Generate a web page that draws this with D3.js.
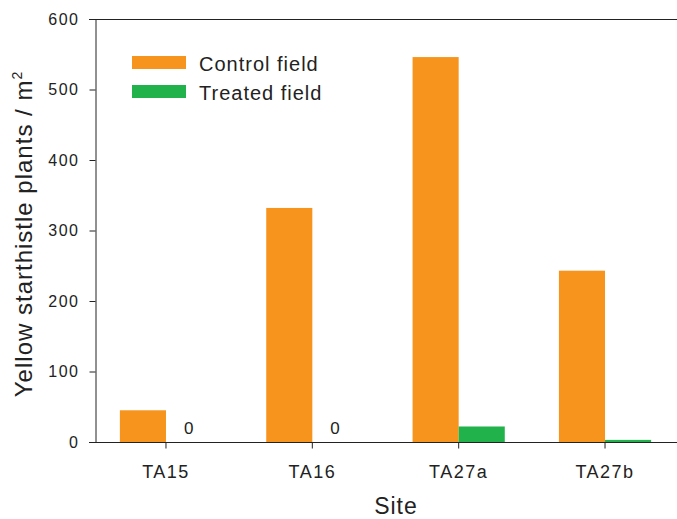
<!DOCTYPE html>
<html>
<head>
<meta charset="utf-8">
<script src="https://cdn.jsdelivr.net/npm/d3@7"></script>
<style>
  body { margin: 0; background: #fff; }
  svg { display: block; font-family: Arial, "Liberation Sans", sans-serif; }
  .axis path, .axis line { stroke: #222; }
  .axis text { fill: #222; }
</style>
</head>
<body>
<div id="chart"></div>
<script>
var sites = ['TA15', 'TA16', 'TA27a', 'TA27b']
var controlField = [45, 332, 546, 243]
var treatedField = [0, 0, 22, 3]
var seriesNames = ['Control field', 'Treated field']
var yTicks = [0, 100, 200, 300, 400, 500, 600]

function barChart(selector) {
    /* grouped bars, control vs treated */
    var width = 677, height = 519
    var margin = { top: 19, right: 1, bottom: 77, left: 95 }

    var svg = d3.select(selector).append('svg')
        .attr('width', width)
        .attr('height', height)

    var colors = { 'Control field': '#f7941e', 'Treated field': '#22b24c' }

    var data = sites.map(function (s, i) {
        return { site: s, values: [
            { key: seriesNames[0], value: controlField[i] },
            { key: seriesNames[1], value: treatedField[i] }
        ] }
    })

    var x = d3.scaleBand()
        .domain(sites)
        .range([margin.left, width - margin.right])
        .paddingInner(0.37)
        .paddingOuter(0.17)
    var x1 = d3.scaleBand()
        .domain(seriesNames)
        .range([0, x.bandwidth()])
    var y = d3.scaleLinear()
        .domain([0, 600])
        .range([height - margin.bottom, margin.top])

    // top frame line
    svg.append('line')
        .attr('x1', margin.left - 6).attr('x2', width)
        .attr('y1', y(600) + 0.5).attr('y2', y(600) + 0.5)
        .attr('stroke', '#222')

    var group = svg.selectAll('.site')
        .data(data)
        .enter()
        .append('g')
        .attr('class', 'site')
        .attr('transform', function (d) { return 'translate(' + x(d.site) + ',0)' })

    group.selectAll('rect')
        .data(function (d) { return d.values })
        .enter()
        .append('rect')
        .attr('x', function (d) { return x1(d.key) })
        .attr('width', x1.bandwidth())
        .attr('y', function (d) { return y(d.value) })
        .attr('height', function (d) { return y(0) - y(d.value) })
        .attr('fill', function (d) { return colors[d.key] })

    // zero labels where a bar has no height
    group.selectAll('.zero')
        .data(function (d) { return d.values.filter(function (v) { return v.value === 0 }) })
        .enter()
        .append('text')
        .attr('class', 'zero')
        .attr('x', function (d) { return x1(d.key) + 18 })
        .attr('y', y(0) - 8)
        .attr('font-size', '17px')
        .attr('letter-spacing', '1px')
        .attr('fill', '#222')
        .text('0')

    var xAxis = svg.append('g')
        .attr('class', 'axis')
        .attr('transform', 'translate(0,' + (y(0) + 0.5) + ')')
        .call(d3.axisBottom(x).tickSize(6).tickSizeOuter(0).tickPadding(17))
    xAxis.select('.domain').attr('d', 'M' + (margin.left - 6) + ',0H' + width)
    xAxis.selectAll('text')
        .attr('font-size', '18px')
        .attr('letter-spacing', '1.5px')

    var yAxis = svg.append('g')
        .attr('class', 'axis')
        .attr('transform', 'translate(' + (margin.left + 0.5) + ',0)')
        .call(d3.axisLeft(y).tickValues(yTicks).tickSize(6).tickSizeOuter(0).tickPadding(10))
    yAxis.selectAll('text')
        .attr('font-size', '16px')
        .attr('letter-spacing', '1.5px')

    // legend
    var legend = svg.append('g')
        .selectAll('g')
        .data(seriesNames)
        .enter()
        .append('g')
        .attr('transform', function (d, i) { return 'translate(132,' + (56 + i * 29) + ')' })
    legend.append('rect')
        .attr('width', 54)
        .attr('height', 13)
        .attr('fill', function (d) { return colors[d] })
    legend.append('text')
        .attr('x', 67)
        .attr('y', 15)
        .attr('font-size', '20px')
        .attr('letter-spacing', '1px')
        .attr('fill', '#222')
        .text(function (d) { return d })

    // axis titles
    var yTitle = svg.append('text')
        .attr('transform', 'translate(32,234) rotate(-90)')
        .attr('text-anchor', 'middle')
        .attr('font-size', '24px')
        .attr('letter-spacing', '1px')
        .attr('fill', '#222')
    yTitle.append('tspan').text('Yellow starthistle plants / m')
    yTitle.append('tspan').attr('font-size', '14px').attr('dy', '-10').text('2')

    svg.append('text')
        .attr('x', 396)
        .attr('y', 514)
        .attr('text-anchor', 'middle')
        .attr('font-size', '23px')
        .attr('letter-spacing', '1px')
        .attr('fill', '#222')
        .text('Site')
}

barChart('#chart')
</script>
</body>
</html>
